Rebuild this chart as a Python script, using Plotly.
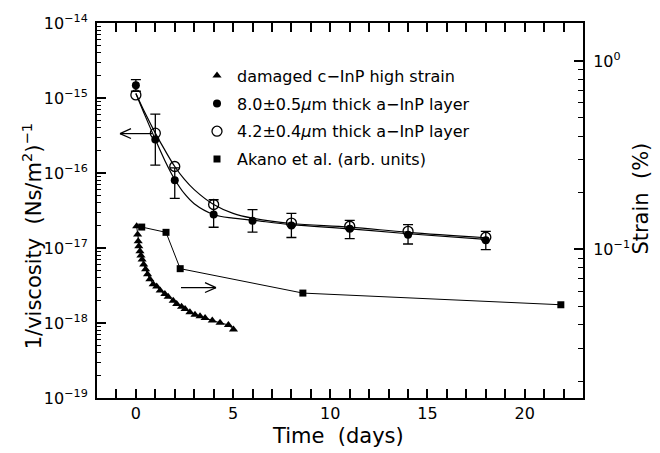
import plotly.graph_objects as go

# ---------------- data ----------------
# 8.0 um thick a-InP layer (filled circles), left axis
t_thick = [0, 1, 2, 4, 6, 8, 11, 14, 18]
v_thick = [1.48e-15, 2.8e-16, 8.0e-17, 2.8e-17, 2.3e-17, 2.0e-17, 1.8e-17, 1.5e-17, 1.27e-17]
v_thick_hi = [1.76e-15, 6.1e-16, 1.17e-16, 4.4e-17, 3.25e-17, 2.9e-17, 2.34e-17, 2.05e-17, 1.67e-17]
v_thick_lo = [1.23e-15, 1.27e-16, 4.6e-17, 1.89e-17, 1.63e-17, 1.38e-17, 1.33e-17, 1.13e-17, 9.5e-18]

# 4.2 um thick a-InP layer (open circles), left axis
t_thin = [0, 1, 2, 4, 8, 11, 14, 18]
v_thin = [1.1e-15, 3.4e-16, 1.22e-16, 3.8e-17, 2.15e-17, 1.95e-17, 1.67e-17, 1.39e-17]

# fitted curves
t_fit = [0, 0.5, 1, 1.5, 2, 2.5, 3, 4, 5, 6, 8, 11, 14, 18]
fit_thick = [1.15e-15, 5.6e-16, 2.8e-16, 1.45e-16, 8.2e-17, 5.3e-17, 3.9e-17, 2.8e-17,
             2.5e-17, 2.35e-17, 2.05e-17, 1.8e-17, 1.55e-17, 1.3e-17]
fit_thin = [1.15e-15, 6.1e-16, 3.4e-16, 2.0e-16, 1.22e-16, 8.2e-17, 6.0e-17, 3.8e-17,
            2.9e-17, 2.5e-17, 2.12e-17, 1.9e-17, 1.62e-17, 1.37e-17]

# damaged c-InP high strain (triangles), right axis (strain %)
t_dam = [0.04, 0.09, 0.12, 0.15, 0.21, 0.26, 0.32, 0.40, 0.50, 0.60, 0.72, 0.89, 1.07,
         1.25, 1.49, 1.66, 1.92, 2.10, 2.35, 2.53, 2.78, 3.04, 3.30, 3.56, 3.93, 4.33, 4.76, 5.02]
s_dam = [0.1327, 0.1199, 0.1106, 0.1040, 0.0980, 0.0929, 0.0886, 0.0833, 0.0785, 0.0739,
         0.0695, 0.0654, 0.0636, 0.0605, 0.0580, 0.0561, 0.0535, 0.0514, 0.0497, 0.0483,
         0.0464, 0.0451, 0.0442, 0.0433, 0.0420, 0.0408, 0.0398, 0.0376]

# Akano et al. (arb. units), right axis
t_akano = [0.3, 1.55, 2.28, 8.59, 21.86]
s_akano = [0.1315, 0.1233, 0.0791, 0.0587, 0.0509]

# tick definitions
x_major = [0, 5, 10, 15, 20]
y_major_exp = [-19, -18, -17, -16, -15, -14]
y2_major = [0.1, 1.0]
y2_labels = ['10<sup>\u22121</sup>', '10<sup>0</sup>']

FONT = "DejaVu Sans"
L, R, T, B = 97, 77, 20, 55
W, H = 660, 453
PW, PH = W - L - R, H - T - B


def px(x):
    return (x - L) / PW


def py(y):
    return (H - B - y) / PH


fig = go.Figure()

# fit curves
fig.add_trace(go.Scatter(x=t_fit, y=fit_thick, mode='lines', line=dict(color='black', width=1.2, shape='spline'),
                         showlegend=False, hoverinfo='skip'))
fig.add_trace(go.Scatter(x=t_fit, y=fit_thin, mode='lines', line=dict(color='black', width=1.2, shape='spline'),
                         showlegend=False, hoverinfo='skip'))

# connecting lines for triangles and Akano (right axis)
fig.add_trace(go.Scatter(x=t_dam, y=s_dam, mode='lines', yaxis='y2', line=dict(color='black', width=1),
                         showlegend=False, hoverinfo='skip'))
fig.add_trace(go.Scatter(x=t_akano, y=s_akano, mode='lines', yaxis='y2', line=dict(color='black', width=1),
                         showlegend=False, hoverinfo='skip'))

# legend-order marker traces
fig.add_trace(go.Scatter(x=t_dam, y=s_dam, mode='markers', yaxis='y2',
                         marker=dict(symbol='triangle-up', size=8, color='black'),
                         name='damaged c\u2212InP high strain', legendgroup='a'))
fig.add_trace(go.Scatter(x=t_thick, y=v_thick, mode='markers',
                         marker=dict(symbol='circle', size=8, color='black'),
                         error_y=dict(type='data', symmetric=False,
                                      array=[h - v for h, v in zip(v_thick_hi, v_thick)],
                                      arrayminus=[v - l for l, v in zip(v_thick_lo, v_thick)],
                                      color='black', thickness=1.3, width=5),
                         name='8.0\u00b10.5<i>\u03bc</i>m thick a\u2212InP layer', legendgroup='b'))
fig.add_trace(go.Scatter(x=t_thin, y=v_thin, mode='markers',
                         marker=dict(symbol='circle-open', size=10, color='black', line=dict(width=1.3)),
                         name='4.2\u00b10.4<i>\u03bc</i>m thick a\u2212InP layer', legendgroup='c'))
fig.add_trace(go.Scatter(x=t_akano, y=s_akano, mode='markers', yaxis='y2',
                         marker=dict(symbol='square', size=7, color='black'),
                         name='Akano et al. (arb. units)', legendgroup='d'))

left_minor = [k * 10.0 ** e for e in y_major_exp[:-1] for k in range(2, 10)]
right_minor = [k * 10.0 ** e for e in (-2, -1) for k in range(2, 10)]

fig.update_layout(
    width=W, height=H,
    margin=dict(l=L, r=R, t=T, b=B),
    paper_bgcolor='white', plot_bgcolor='white',
    font=dict(family=FONT, size=16, color='black'),
    showlegend=True,
    legend=dict(x=px(197), y=py(56), xanchor='left', yanchor='top', bgcolor='rgba(0,0,0,0)',
                font=dict(size=16, family=FONT), tracegroupgap=4, itemwidth=30),
    xaxis=dict(range=[-2, 23], tickvals=x_major, ticks='inside', ticklen=9, tickwidth=1.5,
               tickcolor='black', showline=True, linewidth=2, linecolor='black', mirror='allticks',
               showgrid=False, zeroline=False, tickfont=dict(size=16),
               minor=dict(dtick=1, tick0=0, ticks='inside', ticklen=5, tickwidth=1.5, tickcolor='black',
                          showgrid=False)),
    yaxis=dict(type='log', range=[-19, -14], tickvals=[10.0 ** e for e in y_major_exp],
               ticktext=['10<sup>\u2212%d</sup>' % (-e) for e in y_major_exp],
               ticks='inside', ticklen=9, tickwidth=1.5, tickcolor='black', ticklabelstandoff=4,
               showline=True, linewidth=2, linecolor='black', mirror=False,
               showgrid=False, zeroline=False, tickfont=dict(size=16),
               minor=dict(tickvals=left_minor, ticks='inside', ticklen=4, tickwidth=1.2, tickcolor='black',
                          showgrid=False)),
    yaxis2=dict(type='log', range=[-1.788, 0.2016], overlaying='y', side='right',
                tickvals=y2_major, ticktext=y2_labels,
                ticks='inside', ticklen=9, tickwidth=1.5, tickcolor='black', ticklabelstandoff=5,
                showline=True, linewidth=2, linecolor='black',
                showgrid=False, zeroline=False, tickfont=dict(size=16),
                minor=dict(tickvals=right_minor, ticks='inside', ticklen=5, tickwidth=1.2, tickcolor='black',
                           showgrid=False)),
    annotations=[
        dict(text='1/viscosity  (Ns/m<sup>2</sup>)<sup>\u22121</sup>', x=px(32), y=py(235),
             xref='paper', yref='paper', showarrow=False, textangle=-90, font=dict(size=21),
             xanchor='center', yanchor='middle'),
        dict(text='Strain  (%)', x=px(641), y=py(197), xref='paper', yref='paper', showarrow=False,
             textangle=-90, font=dict(size=21), xanchor='center', yanchor='middle'),
        dict(text='Time  (days)', x=px(338), y=py(436), xref='paper', yref='paper', showarrow=False,
             font=dict(size=21), xanchor='center', yanchor='middle'),
    ],
    shapes=[
        # left-pointing arrow
        dict(type='line', xref='paper', yref='paper', x0=px(120), y0=py(131.5), x1=px(152), y1=py(131.5),
             line=dict(color='black', width=1.2)),
        dict(type='line', xref='paper', yref='paper', x0=px(120), y0=py(131.5), x1=px(131), y1=py(126.5),
             line=dict(color='black', width=1.2)),
        dict(type='line', xref='paper', yref='paper', x0=px(120), y0=py(131.5), x1=px(131), y1=py(136.5),
             line=dict(color='black', width=1.2)),
        # right-pointing arrow
        dict(type='line', xref='paper', yref='paper', x0=px(181), y0=py(286.7), x1=px(216), y1=py(286.7),
             line=dict(color='black', width=1.2)),
        dict(type='line', xref='paper', yref='paper', x0=px(216), y0=py(286.7), x1=px(205), y1=py(281.7),
             line=dict(color='black', width=1.2)),
        dict(type='line', xref='paper', yref='paper', x0=px(216), y0=py(286.7), x1=px(205), y1=py(291.7),
             line=dict(color='black', width=1.2)),
    ],
)

fig.write_html("out.html", config={'displayModeBar': False},
               post_script="document.body.style.margin='0px';")
